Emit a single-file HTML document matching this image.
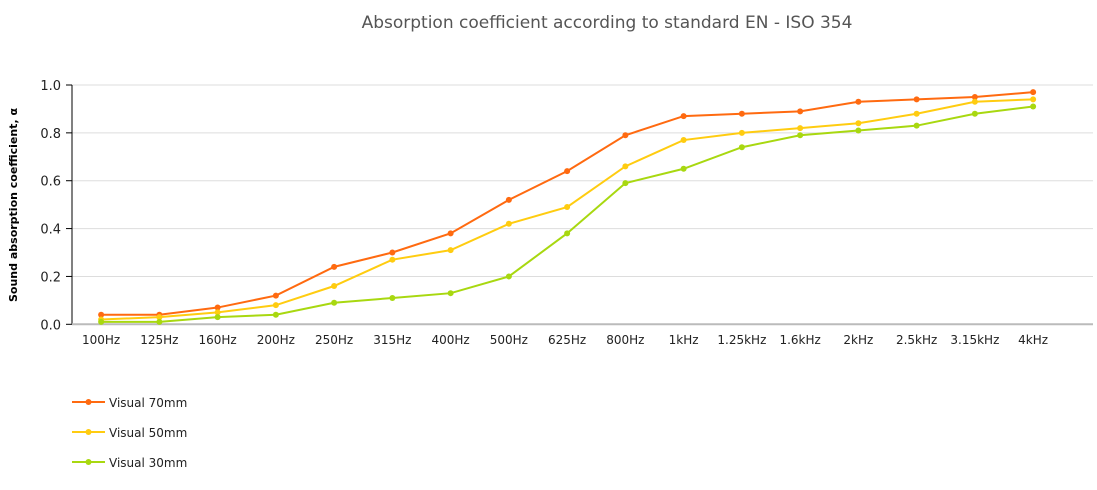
<!DOCTYPE html>
<html><head><meta charset="utf-8"><style>
body{margin:0;background:#fff;width:1097px;height:486px;overflow:hidden;font-family:"DejaVu Sans","Liberation Sans",sans-serif}
</style></head><body>
<svg id="chart" width="1097" height="486" xmlns="http://www.w3.org/2000/svg" font-family="DejaVu Sans, Liberation Sans, sans-serif">
<text x="607" y="28" text-anchor="middle" font-size="17" fill="#555">Absorption coefficient according to standard EN - ISO 354</text>
<text transform="translate(17,205) rotate(-90)" text-anchor="middle" font-size="11" font-weight="bold" fill="#000">Sound absorption coefficient, α</text>
<g id="grid"></g><g id="axes"></g><g id="series"></g><g id="legend"></g>
</svg>
<script>
const categories=["100Hz","125Hz","160Hz","200Hz","250Hz","315Hz","400Hz","500Hz","625Hz","800Hz","1kHz","1.25kHz","1.6kHz","2kHz","2.5kHz","3.15kHz","4kHz"];
const yTicks=[0,0.2,0.4,0.6,0.8,1.0];
const yTickLabels=["0.0","0.2","0.4","0.6","0.8","1.0"];
const seriesNames=["Visual 70mm","Visual 50mm","Visual 30mm"];
const values70=[0.04,0.04,0.07,0.12,0.24,0.30,0.38,0.52,0.64,0.79,0.87,0.88,0.89,0.93,0.94,0.95,0.97];
const values50=[0.02,0.03,0.05,0.08,0.16,0.27,0.31,0.42,0.49,0.66,0.77,0.80,0.82,0.84,0.88,0.93,0.94];
const values30=[0.01,0.01,0.03,0.04,0.09,0.11,0.13,0.20,0.38,0.59,0.65,0.74,0.79,0.81,0.83,0.88,0.91];
const colors=["#ff6a10","#ffcc10","#a8d810"];
const NS="http://www.w3.org/2000/svg";
const left=72,step=58.25,y0=324.3,y1=85,right=1093;
const x=i=>left+step*(i+0.5);
const y=v=>y0-(y0-y1)*v;
function mk(tag,attrs,parent){const e=document.createElementNS(NS,tag);for(const k in attrs)e.setAttribute(k,attrs[k]);parent.appendChild(e);return e;}
const grid=document.getElementById('grid'),axes=document.getElementById('axes'),ser=document.getElementById('series'),leg=document.getElementById('legend');
yTicks.forEach((t,i)=>{
 if(t>0){const g=mk('line',{x1:left,x2:right,y1:y(t),y2:y(t),stroke:'#ddd','stroke-width':1},grid);
 
 }
 const tk=mk('line',{x1:left-6,x2:left,y1:y(t),y2:y(t),stroke:'#000'},axes);
 
 
 const lb=mk('text',{x:left-11,y:y(t)+5,'text-anchor':'end','font-size':13,fill:'#222'},axes);
 lb.textContent=yTickLabels[i];
 
 
});
const ya=mk('line',{x1:left,x2:left,y1:y1,y2:y0,stroke:'#000'},axes);


const xa=mk('line',{x1:left,x2:right,y1:y0,y2:y0,stroke:'#bbb','stroke-width':2},axes);


categories.forEach((c,i)=>{
 const t=mk('text',{x:x(i),y:344,'text-anchor':'middle','font-size':12,fill:'#222'},axes);
 t.textContent=c;
 
 
});
[values70,values50,values30].forEach((vals,s)=>{
 const g=mk('g',{},ser);
 
 
 const p=mk('polyline',{points:vals.map((v,i)=>x(i)+','+y(v)).join(' '),fill:'none',stroke:colors[s],'stroke-width':2},g);
 
 
 vals.forEach((v,i)=>{const c=mk('circle',{cx:x(i),cy:y(v),r:3,fill:colors[s]},g);
 
 });
 const ly=402+30*s;
 const lg=mk('g',{},leg);
 
 
 mk('line',{x1:72,x2:105,y1:ly,y2:ly,stroke:colors[s],'stroke-width':2},lg);
 mk('circle',{cx:88.5,cy:ly,r:3,fill:colors[s]},lg);
 const lt=mk('text',{x:109,y:ly+5,'font-size':12,fill:'#222'},lg);
 lt.textContent=seriesNames[s];
});
</script>
</body></html>
